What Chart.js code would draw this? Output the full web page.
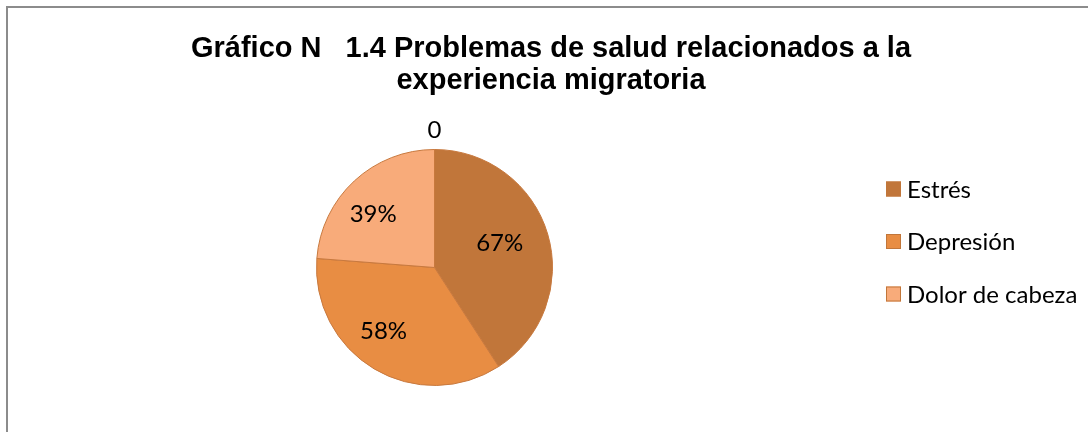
<!DOCTYPE html>
<html>
<head>
<meta charset="utf-8">
<script src="https://cdn.jsdelivr.net/npm/chart.js@4"></script>
<style>
  html, body { margin: 0; padding: 0; background: #ffffff; }
  #wrap { width: 1088px; height: 432px; }
</style>
</head>
<body>
<div id="wrap"><canvas id="c" width="1088" height="432"></canvas></div>
<script>
const categories = ['Estrés', 'Depresión', 'Dolor de cabeza'];
const values = [67, 58, 39];
const valueLabels = ['67%', '58%', '39%'];
const titleLines = ['Gráfico N\u00a0\u00a0\u00a01.4 Problemas de salud relacionados a la', 'experiencia migratoria'];
const extraLabel = '0';
const colors = ['#C1763A', '#E88D43', '#F8AB7A'];

const framePlugin = {
  id: 'frame',
  beforeDraw(chart) {
    const ctx = chart.ctx;
    ctx.save();
    ctx.fillStyle = '#ffffff';
    ctx.fillRect(0, 0, chart.width, chart.height);
    ctx.strokeStyle = '#8C8C8C';
    ctx.lineWidth = 2;
    ctx.beginPath();
    ctx.moveTo(7, chart.height + 2);
    ctx.lineTo(7, 7);
    ctx.lineTo(chart.width + 2, 7);
    ctx.stroke();
    ctx.restore();
  }
};

const textPlugin = {
  id: 'texts',
  afterDraw(chart) {
    const ctx = chart.ctx;
    ctx.save();
    // title
    ctx.fillStyle = '#000000';
    ctx.font = 'bold 29px "Liberation Sans", Arial, sans-serif';
    ctx.textBaseline = 'alphabetic';
    ctx.textAlign = 'left';
    const targetW = [720, 309];
    const cx = 551;
    const baselines = [57, 89];
    titleLines.forEach((t, i) => {
      const w = ctx.measureText(t).width;
      const sx = targetW[i] / w;
      ctx.save();
      ctx.translate(cx - targetW[i] / 2, baselines[i]);
      ctx.scale(sx, 1);
      ctx.fillText(t, 0, 0);
      ctx.restore();
    });

    const meta = chart.getDatasetMeta(0);
    const arc0 = meta.data[0];
    // zero label above pie
    ctx.font = '24px Lato, "Open Sans", sans-serif';
    ctx.textAlign = 'center';
    ctx.textBaseline = 'alphabetic';
    ctx.fillText(extraLabel, arc0.x, arc0.y - arc0.outerRadius - 12);

    // slice labels
    const ratios = [0.59, 0.69, 0.69];
    const angleShift = [-4, 8, -6];
    ctx.textBaseline = 'middle';
    meta.data.forEach((arc, i) => {
      const mid = (arc.startAngle + arc.endAngle) / 2 + angleShift[i] * Math.PI / 180;
      const r = arc.outerRadius * ratios[i];
      ctx.fillText(valueLabels[i], arc.x + Math.cos(mid) * r, arc.y + Math.sin(mid) * r);
    });

    // legend
    ctx.textAlign = 'left';
    ctx.font = '24px Lato, "Open Sans", sans-serif';
    const lx = 886, ly0 = 189, step = 52.5, box = 15;
    categories.forEach((c, i) => {
      const y = ly0 + i * step;
      ctx.fillStyle = colors[i];
      ctx.fillRect(lx, y - box / 2, box, box);
      ctx.strokeStyle = '#C1763A';
      ctx.lineWidth = 1;
      ctx.strokeRect(lx + 0.5, y - box / 2 + 0.5, box - 1, box - 1);
      ctx.fillStyle = '#000000';
      ctx.textBaseline = 'middle';
      ctx.fillText(c, lx + 21, y + 1);
    });
    ctx.restore();
  }
};

new Chart(document.getElementById('c'), {
  type: 'pie',
  data: {
    labels: categories,
    datasets: [{
      data: values,
      backgroundColor: colors,
      borderColor: '#C8793E',
      borderWidth: 1
    }]
  },
  options: {
    responsive: false,
    animation: false,
    layout: { padding: { left: 316, right: 535, top: 149, bottom: 46 } },
    plugins: {
      legend: { display: false },
      title: { display: false },
      tooltip: { enabled: false }
    }
  },
  plugins: [framePlugin, textPlugin]
});
</script>
</body>
</html>
